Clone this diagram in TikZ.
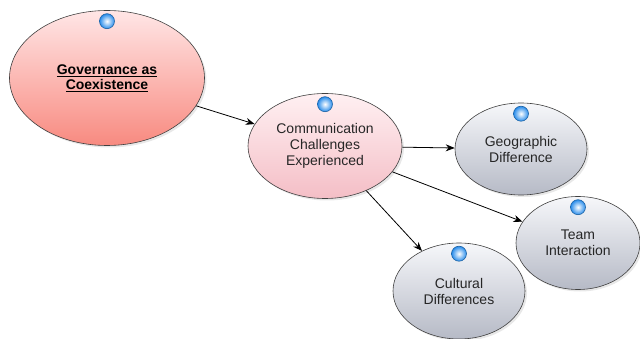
\documentclass[tikz,border=0pt]{standalone}
\usepackage{fontspec}
\setmainfont{Liberation Sans}
\usetikzlibrary{shapes.geometric,arrows.meta,shadows}

\definecolor{rootlight}{RGB}{255,230,230}
\definecolor{rootdark}{RGB}{248,138,128}
\definecolor{midlight}{RGB}{255,240,242}
\definecolor{middark}{RGB}{244,190,198}
\definecolor{leaflight}{RGB}{246,247,250}
\definecolor{leafdark}{RGB}{182,186,198}
\definecolor{knobblue}{RGB}{40,140,235}

\tikzset{
  topic/.style={ellipse, draw=black!75, line width=0.6pt, align=center,
    inner sep=0pt, text=black!85, font=\fontsize{14}{16}\selectfont,
    shading angle=45,
    drop shadow={opacity=0.18, shadow xshift=2pt, shadow yshift=-2pt}},
  roottopic/.style={topic, top color=rootlight, bottom color=rootdark,
    text=black, font=\bfseries\fontsize{14}{15}\selectfont},
  midtopic/.style={topic, top color=midlight, bottom color=middark},
  leaftopic/.style={topic, top color=leaflight, bottom color=leafdark},
  knob/.style={circle, minimum size=15pt, inner sep=0pt,
    draw=knobblue!70!black, line width=0.6pt,
    inner color=white, outer color=knobblue},
  conn/.style={-{Stealth[length=9pt,width=7pt]}, line width=0.8pt, black}
}

\begin{document}
\begin{tikzpicture}[x=1pt, y=-1pt]
  \useasboundingbox (0,0) rectangle (640,339);
  % topics
  \node[roottopic, minimum width=195pt, minimum height=135pt] (gov) at (107,78)
    {\underline{Governance as}\\\underline{Coexistence}};
  \node[midtopic, minimum width=154pt, minimum height=105pt] (comm) at (325,146)
    {Communication\\Challenges\\Experienced};
  \node[leaftopic, minimum width=132pt, minimum height=92pt] (geo) at (521,149)
    {Geographic\\Difference};
  \node[leaftopic, minimum width=124pt, minimum height=93pt] (team) at (578,243)
    {Team\\Interaction};
  \node[leaftopic, minimum width=132pt, minimum height=96pt] (cult) at (459,291)
    {Cultural\\Differences};
  % knobs on top of each topic
  \foreach \t in {gov,comm,geo,team,cult}
    \node[knob] (\t knob) at ([yshift=-11pt]\t.north) {};
  % links
  \draw[conn] (gov) -- (comm);
  \draw[conn] (comm) -- (geo);
  \draw[conn] (comm) -- (team);
  \draw[conn] (comm) -- (cult);
\end{tikzpicture}
\end{document}
